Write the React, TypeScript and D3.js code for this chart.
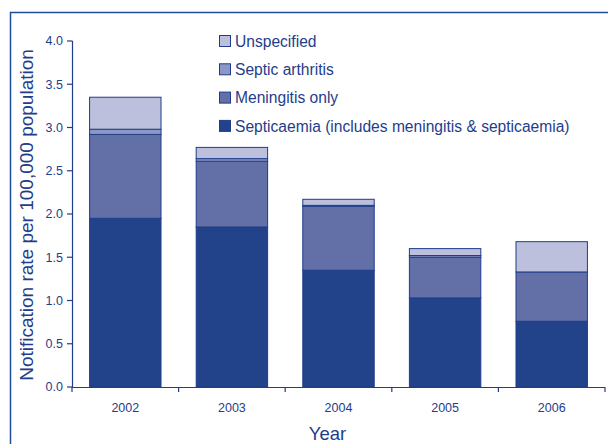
import React from 'react';
import * as d3 from 'd3';

const years = ['2002', '2003', '2004', '2005', '2006'];
const septicaemia = [1.95, 1.85, 1.35, 1.03, 0.76];
const meningitis = [0.97, 0.76, 0.74, 0.47, 0.57];
const septicArthritis = [0.06, 0.03, 0.01, 0.02, 0.0];
const unspecified = [0.37, 0.13, 0.07, 0.08, 0.35];
const yTicks = [0, 0.5, 1, 1.5, 2, 2.5, 3, 3.5, 4];

const seriesNames = ['Septicaemia', 'Meningitis only', 'Septic arthritis', 'Unspecified'];
const legendLabels = ['Unspecified', 'Septic arthritis', 'Meningitis only', 'Septicaemia (includes meningitis & septicaemia)'];
const colors: Record<string, string> = {
  'Septicaemia': '#22438a',
  'Meningitis only': '#6370a8',
  'Septic arthritis': '#8d97c6',
  'Unspecified': '#bcc0dc',
  'Septicaemia (includes meningitis & septicaemia)': '#22438a',
};

const W = 608, H = 444;
const margin = { top: 41, right: 3, bottom: 57, left: 72 };
const ink = '#1f3d8a';

const App: React.FC = () => {
  const width = W - margin.left - margin.right;
  const height = H - margin.top - margin.bottom;

  const rows = years.map((y, i) => ({
    year: y,
    'Septicaemia': septicaemia[i],
    'Meningitis only': meningitis[i],
    'Septic arthritis': septicArthritis[i],
    'Unspecified': unspecified[i],
  }));
  const stacked = d3.stack<any>().keys(seriesNames)(rows);

  const x = d3.scaleBand().domain(years).range([0, width]).paddingInner(0.33).paddingOuter(0.165);
  const xEdges = d3.scaleBand().domain(years).range([0, width]).padding(0);
  const y = d3.scaleLinear().domain([0, 4]).range([height, 0]);

  return (
    <svg width={W} height={H} style={{ position: 'absolute', left: 0, top: 0 }} fontFamily="'Liberation Sans', Arial, sans-serif">
      <rect x={10.5} y={12.5} width={W} height={H} fill="none" stroke="#1f4f9a" strokeWidth={1.5} />
      <g transform={`translate(${margin.left},${margin.top})`}>
        {stacked.map(layer => (
          <g key={layer.key} fill={colors[layer.key]}>
            {layer.map((d, i) => (
              d[1] - d[0] > 0 ? (
                <rect key={i} x={x(years[i])} y={y(d[1])} width={x.bandwidth()} height={y(d[0]) - y(d[1])}
                  stroke={ink} strokeWidth={1} />
              ) : null
            ))}
          </g>
        ))}
        {/* y axis */}
        <line x1={0.5} x2={0.5} y1={y(4)} y2={height} stroke={ink} strokeWidth={1.2} />
        {yTicks.map(t => (
          <g key={t} transform={`translate(0,${y(t)})`}>
            <line x1={-5} x2={0.5} stroke={ink} strokeWidth={1.2} />
            <text x={-9} dy="0.35em" textAnchor="end" fontSize={12.5} fill={ink}>{d3.format('.1f')(t)}</text>
          </g>
        ))}
        {/* x axis */}
        <line x1={0} x2={width} y1={height + 0.5} y2={height + 0.5} stroke={ink} strokeWidth={1.2} />
        {[...years.map(yr => xEdges(yr) as number), width].map((e, i) => (
          <line key={i} x1={e} x2={e} y1={height} y2={height + 5} stroke={ink} strokeWidth={1.2} />
        ))}
        {years.map(yr => (
          <text key={yr} x={(x(yr) as number) + x.bandwidth() / 2} y={height + 25} textAnchor="middle" fontSize={12.5} fill={ink}>{yr}</text>
        ))}
        <text x={width / 2 - 11} y={height + 53} textAnchor="middle" fontSize={18.5} fill={ink}>Year</text>
        <text transform={`translate(-39,${height / 2 + 1}) rotate(-90)`} textAnchor="middle" fontSize={19} fill={ink}>Notification rate per 100,000 population</text>
        {/* legend */}
        {legendLabels.map((l, i) => (
          <g key={l} transform={`translate(147,${-6 + i * 28.3})`}>
            <rect x={0.5} y={0.5} width={11} height={11} fill={colors[l]} stroke={ink} strokeWidth={1} />
            <text x={16} y={6} dy="0.36em" fontSize={15.6} fill={ink}>{l}</text>
          </g>
        ))}
      </g>
    </svg>
  );
};

export default App;
